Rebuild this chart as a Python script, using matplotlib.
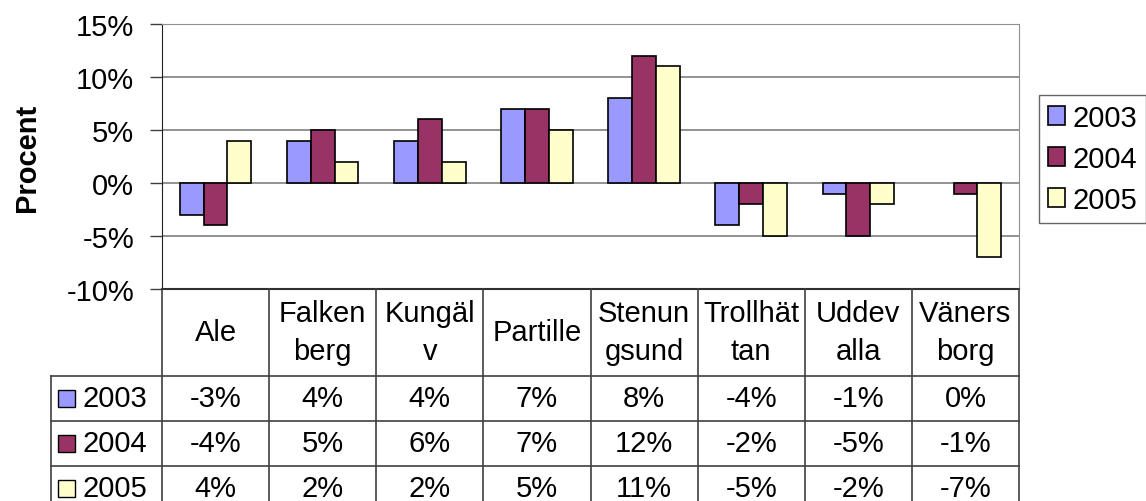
import matplotlib
matplotlib.use("Agg")
import matplotlib.pyplot as plt
from matplotlib.patches import Rectangle
import numpy as np

plt.rcParams['font.family'] = ['Liberation Sans', 'DejaVu Sans']

kommuner = ["Ale", "Falken\nberg", "Kungäl\nv", "Partille", "Stenun\ngsund",
            "Trollhät\ntan", "Uddev\nalla", "Väners\nborg"]
years = ["2003", "2004", "2005"]
v2003 = [-3, 4, 4, 7, 8, -4, -1, 0]
v2004 = [-4, 5, 6, 7, 12, -2, -5, -1]
v2005 = [4, 2, 2, 5, 11, -5, -2, -7]
colors = ["#9999FF", "#993366", "#FFFFCC"]

W, H = 1146, 502
fig = plt.figure(figsize=(W / 100, H / 100), dpi=100)

def px_axes(x0, y0, x1, y1):
    return fig.add_axes([x0 / W, 1 - y1 / H, (x1 - x0) / W, (y1 - y0) / H])

fs = 21
ax = px_axes(162, 25, 1019, 290)
x = np.arange(len(kommuner))
bw = 1 / 4.5
series = [v2003, v2004, v2005]
for k, vals in enumerate(series):
    bars = ax.bar(x + (k - 1) * bw, vals, bw, color=colors[k], edgecolor="black",
                  linewidth=1.2, label=years[k], zorder=3)
    for b, v in zip(bars, vals):
        if v == 0:
            b.set_linewidth(0)

ax.set_xlim(-0.5, len(kommuner) - 0.5)
ax.set_ylim(-10, 15)
ax.set_yticks(np.arange(-10, 16, 5))
ax.set_yticklabels([f"{t}%" for t in range(-10, 16, 5)], fontsize=fs)
ax.yaxis.grid(True, color="#808080", linewidth=1.2, zorder=0)
ax.set_xticks([])
ax.tick_params(axis="y", length=9, width=1, color="#404040", pad=11)
for s in ["top", "right"]:
    ax.spines[s].set_color("#909090")
ax.spines["left"].set_color("#202020")
ax.spines["bottom"].set_color("#303030")
ax.spines["bottom"].set_linewidth(1.5)
ax.set_ylabel("Procent", fontsize=fs, fontweight="bold", labelpad=18)

leg = ax.legend(loc="upper left", bbox_to_anchor=((1039 - 162) / (1019 - 162), 1 - (96 - 25) / 265),
                fontsize=fs, frameon=True, fancybox=False, edgecolor="#404040",
                handlelength=0.6, handleheight=0.6, handletextpad=0.25,
                labelspacing=0.45, borderpad=0.3, borderaxespad=0)
leg.get_frame().set_linewidth(1)

# data table under the chart
tax = px_axes(162, 290, 1019, 512)
tax.set_xlim(-0.5, len(kommuner) - 0.5)
tax.set_ylim(222, 0)
tax.axis("off")
line_kw = dict(color="#404040", linewidth=1.2, clip_on=False)
row_tops = [0, 87, 132, 177, 222]
lab_left = -0.5 - (162 - 51) / 107.1
for i in range(len(kommuner) + 1):
    tax.plot([i - 0.5, i - 0.5], [0, 222], **line_kw)
tax.plot([lab_left, lab_left], [87, 222], **line_kw)
for yy in row_tops[1:4]:
    tax.plot([lab_left, len(kommuner) - 0.5], [yy, yy], **line_kw)

for i, name in enumerate(kommuner):
    tax.text(i, 43, name, ha="center", va="center", fontsize=fs, linespacing=1.45)
for r, vals in enumerate(series):
    yc = (row_tops[r + 1] + row_tops[r + 2]) / 2
    for i, v in enumerate(vals):
        tax.text(i, yc, f"{v}%", ha="center", va="center", fontsize=fs)
    sq = (75 - 58) / 107.1
    tax.add_patch(Rectangle((lab_left + (58 - 51) / 107.1, yc - 8.5), sq, 17,
                            facecolor=colors[r], edgecolor="black", linewidth=1,
                            clip_on=False))
    tax.text(lab_left + (83 - 51) / 107.1, yc, years[r], ha="left", va="center",
             fontsize=fs)

fig.savefig("out.png", dpi=100)
